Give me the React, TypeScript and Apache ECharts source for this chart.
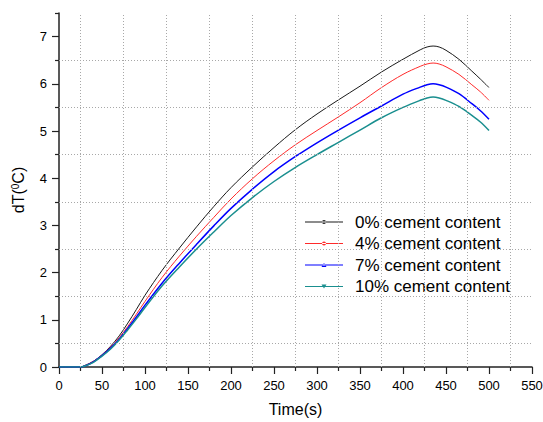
import React, { useEffect, useRef } from "react";
import * as echarts from "echarts";

const FONT = "'Liberation Sans', Arial, Helvetica, sans-serif";

const timeValues = [0, 10, 20, 25, 30, 40, 50, 60, 70, 80, 90, 100, 120, 140, 160, 180, 200, 225, 250, 275, 300, 325, 350, 375, 400, 420, 428, 435, 442, 450, 465, 480, 490, 500];

const dT0 = [0, 0, 0, 0, 0.03, 0.12, 0.26, 0.44, 0.66, 0.93, 1.22, 1.52, 2.05, 2.52, 2.97, 3.4, 3.8, 4.24, 4.65, 5.03, 5.36, 5.66, 5.95, 6.25, 6.52, 6.72, 6.78, 6.8, 6.78, 6.71, 6.52, 6.27, 6.1, 5.92];
const dT4 = [0, 0, 0, 0, 0.03, 0.12, 0.25, 0.42, 0.62, 0.86, 1.12, 1.39, 1.9, 2.35, 2.77, 3.17, 3.56, 3.99, 4.37, 4.71, 5.01, 5.3, 5.6, 5.92, 6.2, 6.37, 6.42, 6.44, 6.42, 6.36, 6.2, 5.98, 5.83, 5.65];
const dT7 = [0, 0, 0, 0, 0.02, 0.11, 0.24, 0.4, 0.59, 0.82, 1.06, 1.31, 1.78, 2.2, 2.6, 2.99, 3.36, 3.77, 4.14, 4.46, 4.75, 5.02, 5.28, 5.53, 5.78, 5.93, 5.98, 6.0, 5.98, 5.93, 5.79, 5.58, 5.43, 5.25];
const dT10 = [0, 0, 0, 0, 0.02, 0.1, 0.23, 0.38, 0.57, 0.79, 1.02, 1.26, 1.72, 2.12, 2.5, 2.86, 3.21, 3.59, 3.93, 4.23, 4.5, 4.76, 5.02, 5.28, 5.5, 5.65, 5.7, 5.72, 5.7, 5.65, 5.52, 5.33, 5.19, 5.01];

const seriesNames = ["0% cement content", "4% cement content", "7% cement content", "10% cement content"];
const seriesValues = [dT0, dT4, dT7, dT10];
const seriesColors = ["#1a1a1a", "#ff2a2a", "#0000ff", "#1a8f8f"];
const seriesWidths = [1, 1, 1.5, 1.5];

const yMajorTicks = [0, 1, 2, 3, 4, 5, 6, 7];
const yMinorTicks = [0.5, 1.5, 2.5, 3.5, 4.5, 5.5, 6.5, 7.5];
const xGridValues = [25, 75, 125, 175, 225, 275, 325, 375, 425, 475, 525];
const yGridValues = [0.5, 1.5, 2.5, 3.5, 4.5, 5.5, 6.5];

const LINE = "M0,1.5 L38,1.5 L38,2.5 L0,2.5 Z ";
const legendIcons = [
  "path://" + LINE + "M17,2 A2,2 0 1,0 21,2 A2,2 0 1,0 17,2 Z",
  "path://" + LINE + "M17,2 A2,2 0 1,0 21,2 A2,2 0 1,0 17,2 Z",
  "path://" + LINE + "M16.5,4 L21.5,4 L19,0 Z",
  "path://" + LINE + "M16.5,0 L21.5,0 L19,4 Z",
];

export default function App() {
  const ref = useRef<HTMLDivElement>(null);
  useEffect(() => {
    if (!ref.current) return;
    const chart = echarts.init(ref.current, undefined, { renderer: "svg" });
    const axisColor = "#222";
    const option: any = {
      animation: false,
      backgroundColor: "#ffffff",
      textStyle: { fontFamily: FONT },
      grid: { left: 59, right: 11, top: 13, bottom: 55, outerBoundsMode: "none" },
      legend: {
        orient: "vertical",
        left: 305,
        top: 213.5,
        padding: 0,
        itemWidth: 38,
        itemHeight: 4,
        itemGap: 4.5,
        itemStyle: { borderWidth: 0 },
        textStyle: { fontSize: 17, color: "#000", lineHeight: 17, fontFamily: FONT, padding: [0, 0, 0, 7] },
        data: seriesNames.map((n, i) => ({ name: n, icon: legendIcons[i] })),
      },
      xAxis: {
        type: "value",
        min: 0,
        max: 550,
        interval: 50,
        name: "Time(s)",
        nameLocation: "middle",
        nameGap: 34,
        nameTextStyle: { fontSize: 16, color: "#000", fontFamily: FONT },
        axisLine: { show: true, onZero: false, lineStyle: { color: axisColor, width: 1.5 } },
        axisTick: { show: true, length: 7, lineStyle: { color: axisColor, width: 1.2 } },
        minorTick: { show: true, splitNumber: 2, length: 4, lineStyle: { color: axisColor, width: 1.2 } },
        axisLabel: { fontSize: 13, color: "#000", margin: 12, fontFamily: FONT },
        splitLine: { show: false },
        minorSplitLine: { show: false },
      },
      yAxis: [
        {
          type: "value",
          min: 0,
          max: 7.5,
          interval: 1,
          position: "left",
          name: "{a|dT(}{s|0}{a|C)}",
          nameLocation: "middle",
          nameGap: 33,
          nameRotate: 90,
          nameTextStyle: {
            fontSize: 16,
            color: "#000",
            rich: {
              a: { fontSize: 16, fontFamily: FONT, color: "#000" },
              s: { fontSize: 10, fontFamily: FONT, color: "#000", verticalAlign: "top" },
            },
          },
          axisLine: { show: true, onZero: false, lineStyle: { color: axisColor, width: 1.5 } },
          axisTick: { show: true, length: 7, customValues: yMajorTicks, lineStyle: { color: axisColor, width: 1.2 } },
          axisLabel: { fontSize: 13, color: "#000", margin: 12, fontFamily: FONT, customValues: yMajorTicks },
          splitLine: { show: false },
        },
        {
          type: "value",
          min: 0,
          max: 7.5,
          position: "left",
          axisLine: { show: false },
          axisTick: { show: true, length: 4, customValues: yMinorTicks, lineStyle: { color: axisColor, width: 1.2 } },
          axisLabel: { show: false },
          splitLine: { show: false },
        },
      ],
      series: [
        {
          type: "line",
          name: "grid",
          data: [],
          silent: true,
          markLine: {
            silent: true,
            symbol: ["none", "none"],
            label: { show: false },
            emphasis: { disabled: true },
            lineStyle: { color: "#a8a8a8", type: [1, 2], width: 1 },
            data: [
              ...xGridValues.map((v) => ({ xAxis: v })),
              ...yGridValues.map((v) => ({ yAxis: v })),
            ],
          },
        },
        ...seriesNames.map((name, i) => ({
          type: "line",
          name,
          data: timeValues.map((t, k) => [t, seriesValues[i][k]]),
          showSymbol: false,
          symbol: "none",
          smooth: 0.35,
          lineStyle: { color: seriesColors[i], width: seriesWidths[i] },
          itemStyle: { color: seriesColors[i] },
          emphasis: { disabled: true },
        })),
      ],
    };
    chart.setOption(option);
    return () => chart.dispose();
  }, []);
  return <div ref={ref} style={{ position: "fixed", left: 0, top: 0, width: 543, height: 422 }} />;
}
